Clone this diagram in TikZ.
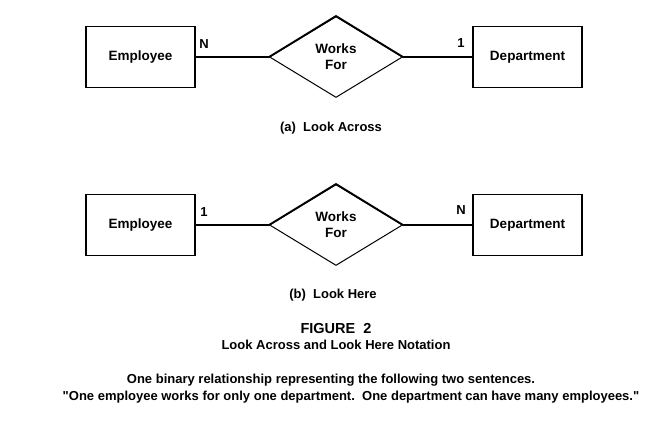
\documentclass[tikz,border=0pt]{standalone}
\usepackage{fontspec}
\setmainfont{Liberation Sans}[Ligatures=TeXOff]
\usetikzlibrary{shapes.geometric}
\begin{document}
\begin{tikzpicture}[x=1pt,y=-1pt,
  entity/.style={draw,line width=1.6pt,minimum width=109pt,minimum height=61pt,inner sep=0pt,font=\bfseries\fontsize{13.5}{15}\selectfont},
  rel/.style={draw,line width=1pt,shape=diamond,minimum width=133pt,minimum height=81pt,inner sep=0pt,align=center,font=\bfseries\fontsize{13.5}{16}\selectfont},
  link/.style={line width=1.3pt},
  card/.style={font=\bfseries\fontsize{13}{15}\selectfont,inner sep=0pt},
  captext/.style={font=\bfseries\fontsize{13}{15}\selectfont,inner sep=0pt}]
\useasboundingbox (0,0) rectangle (650,424);
% (a)
\node[entity] (e1) at (140.5,57) {Employee};
\node[rel] (r1) at (336,57) {Works\\For};
\node[entity] (d1) at (527.5,57) {Department};
\draw[line width=1.8pt] (r1.west) -- (r1.north) -- (r1.east);
\draw[link] (e1.east) -- (r1.west);
\draw[link] (r1.east) -- (d1.west);
\node[card] (n1) at (204,44) {N};
\node[card] (o1) at (461,43) {1};
\node[captext] (ca) at (331,128) {(a)\ \ Look Across};
% (b)
\node[entity] (e2) at (140.5,225) {Employee};
\node[rel] (r2) at (336,225) {Works\\For};
\node[entity] (d2) at (527.5,225) {Department};
\draw[line width=1.8pt] (r2.west) -- (r2.north) -- (r2.east);
\draw[link] (e2.east) -- (r2.west);
\draw[link] (r2.east) -- (d2.west);
\node[card] (o2) at (204,212) {1};
\node[card] (n2) at (461,210) {N};
\node[captext] (cb) at (333,295) {(b)\ \ Look Here};
% captions
\node[font=\bfseries\fontsize{14.5}{16}\selectfont,inner sep=0pt] (fig) at (336,328) {FIGURE\ \ 2};
\node[captext] (sub) at (336,345) {Look Across and Look Here Notation};
\node[captext] (s1) at (331,380) {One binary relationship representing the following two sentences.};
\node[captext] (s2) at (351,397) {"One employee works for only one department.\ \ One department can have many employees."};
\end{tikzpicture}
\end{document}
